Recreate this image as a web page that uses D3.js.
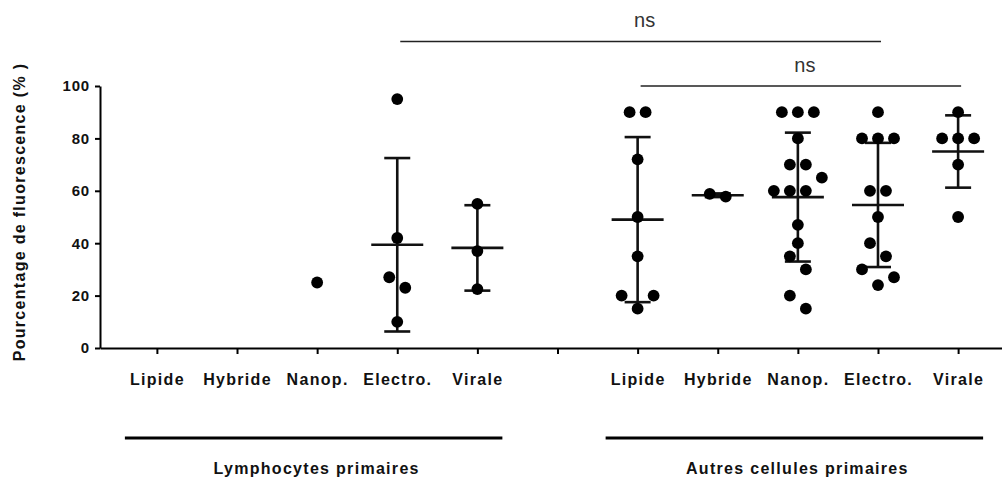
<!DOCTYPE html>
<html>
<head>
<meta charset="utf-8">
<script src="https://cdn.jsdelivr.net/npm/d3@7"></script>
<style>
  body { margin: 0; background: #fff; }
  svg { display: block; font-family: "Liberation Sans", Arial, sans-serif; }
  .axis path, .axis line { stroke: #000; stroke-width: 2; }
  .axis text { font-weight: bold; fill: #111; }
</style>
</head>
<body>
<svg id="chart"></svg>
<script>
const width = 1002;
const height = 481;

// categories and groups
const categories = ["Lipide", "Hybride", "Nanop.", "Electro.", "Virale"];
const groups = ["Lymphocytes primaires", "Autres cellules primaires"];
const yTicks = [0, 20, 40, 60, 80, 100];

// individual values
const lymphoValues = [
  [],
  [],
  [25],
  [95, 42, 27, 23, 10],
  [55, 37, 22.5]
];
const autresValues = [
  [90, 90, 72, 50, 35, 20, 20, 15],
  [57.8, 58.8],
  [90, 90, 90, 80, 70, 70, 65, 60, 60, 60, 47, 40, 35, 30, 20, 15],
  [90, 80, 80, 80, 60, 60, 50, 40, 35, 30, 27, 24],
  [90, 80, 80, 80, 70, 50]
];

// mean and SD as drawn
const lymphoMean = [null, null, null, 39.4, 38.2];
const lymphoSD = [null, null, null, 33.1, 16.3];
const autresMean = [49, 58.3, 57.6, 54.6, 75];
const autresSD = [31.5, 0.7, 24.6, 23.7, 13.8];

// comparisons (ns)
const compFrom = ["0|Electro.", "1|Lipide"];
const compTo = ["1|Electro.", "1|Virale"];
const compLevel = [117, 100];
const compLabel = ["ns", "ns"];

const svg = d3.select("#chart")
  .attr("width", width)
  .attr("height", height);

const margin = { top: 86, bottom: 348, left: 100, right: 1015 };

// x keys: group index | category, with an empty slot between groups
const keys = [
  ...categories.map(c => "0|" + c),
  "gap",
  ...categories.map(c => "1|" + c)
];

const x = d3.scalePoint()
  .domain(keys)
  .range([margin.left, margin.right])
  .padding(0.71);

const y = d3.scaleLinear()
  .domain([0, 100])
  .range([margin.bottom, margin.top]);

// axes
const yAxis = svg.append("g")
  .attr("class", "axis")
  .attr("transform", `translate(${margin.left},0)`)
  .call(d3.axisLeft(y).tickValues(yTicks).tickSize(5).tickPadding(5).tickSizeOuter(0));
yAxis.selectAll("text")
  .style("font-size", "15px")
  .style("letter-spacing", "0.8px");

const xAxis = svg.append("g")
  .attr("class", "axis")
  .attr("transform", `translate(0,${margin.bottom})`)
  .call(d3.axisBottom(x)
    .tickSize(6)
    .tickSizeOuter(0)
    .tickFormat(k => k === "gap" ? "" : k.split("|")[1]));
xAxis.selectAll("text")
  .attr("y", 26)
  .style("font-size", "16px")
  .style("letter-spacing", "1.3px");

// y title
svg.append("text")
  .attr("transform", `translate(25,${(margin.top + margin.bottom) / 2 - 5}) rotate(-90)`)
  .attr("text-anchor", "middle")
  .style("font-size", "16px")
  .style("font-weight", "bold")
  .style("letter-spacing", "1.3px")
  .attr("fill", "#111")
  .text("Pourcentage de fluorescence (% )");

// scatter layout: rows of close values spread sideways
function swarm(values) {
  const sorted = values.slice().sort((a, b) => a - b);
  const rows = [];
  sorted.forEach(v => {
    const row = rows[rows.length - 1];
    if (row && v - row[0] <= 6.5) row.push(v);
    else rows.push([v]);
  });
  const oddSlots = [0, 1, -1, 2, -2];
  const evenSlots = [0.5, -0.5, -1.5, 1.5, 2.5, -2.5];
  const out = [];
  rows.forEach(row => {
    row.forEach((v, i) => {
      const slot = row.length % 2 ? oddSlots[i] : evenSlots[i];
      out.push({ value: v, slot: slot });
    });
  });
  return out;
}

const dotStep = 16;
const series = [
  { g: 0, values: lymphoValues, mean: lymphoMean, sd: lymphoSD },
  { g: 1, values: autresValues, mean: autresMean, sd: autresSD }
];

series.forEach(s => {
  categories.forEach((c, i) => {
    const cx = x(s.g + "|" + c);
    const m = s.mean[i];
    const sd = s.sd[i];
    const grp = svg.append("g");

    if (m != null) {
      grp.append("line")
        .attr("x1", cx).attr("x2", cx)
        .attr("y1", y(m + sd)).attr("y2", y(m - sd))
        .attr("stroke", "#111").attr("stroke-width", 2.6);
      [m + sd, m - sd].forEach(v => {
        grp.append("line")
          .attr("x1", cx - 13).attr("x2", cx + 13)
          .attr("y1", y(v)).attr("y2", y(v))
          .attr("stroke", "#111").attr("stroke-width", 2.6);
      });
      grp.append("line")
        .attr("x1", cx - 26).attr("x2", cx + 26)
        .attr("y1", y(m)).attr("y2", y(m))
        .attr("stroke", "#111").attr("stroke-width", 2.6);
    }

    grp.selectAll("circle")
      .data(swarm(s.values[i]))
      .join("circle")
      .attr("cx", d => cx + d.slot * dotStep)
      .attr("cy", d => y(d.value))
      .attr("r", 5.9)
      .attr("fill", "#000");
  });
});

// group bars and labels
groups.forEach((gname, g) => {
  const x0 = x(g + "|" + categories[0]) - 32;
  const x1 = x(g + "|" + categories[categories.length - 1]) + 25;
  svg.append("line")
    .attr("x1", x0).attr("x2", x1)
    .attr("y1", 438).attr("y2", 438)
    .attr("stroke", "#000").attr("stroke-width", 3);
  svg.append("text")
    .attr("x", (x0 + x1) / 2 + 3)
    .attr("y", 474)
    .attr("text-anchor", "middle")
    .style("font-size", "16px")
    .style("font-weight", "bold")
    .style("letter-spacing", "1.3px")
    .attr("fill", "#111")
    .text(gname);
});

// ns comparisons
compFrom.forEach((f, i) => {
  const x0 = x(f) + 3;
  const x1 = x(compTo[i]) + 3;
  const ly = y(compLevel[i]);
  svg.append("line")
    .attr("x1", x0).attr("x2", x1)
    .attr("y1", ly).attr("y2", ly)
    .attr("stroke", "#222").attr("stroke-width", 1.5);
  svg.append("text")
    .attr("x", (x0 + x1) / 2 + 4)
    .attr("y", ly - 14)
    .attr("text-anchor", "middle")
    .style("font-size", "20px")
    .attr("fill", "#333")
    .text(compLabel[i]);
});
</script>
</body>
</html>
